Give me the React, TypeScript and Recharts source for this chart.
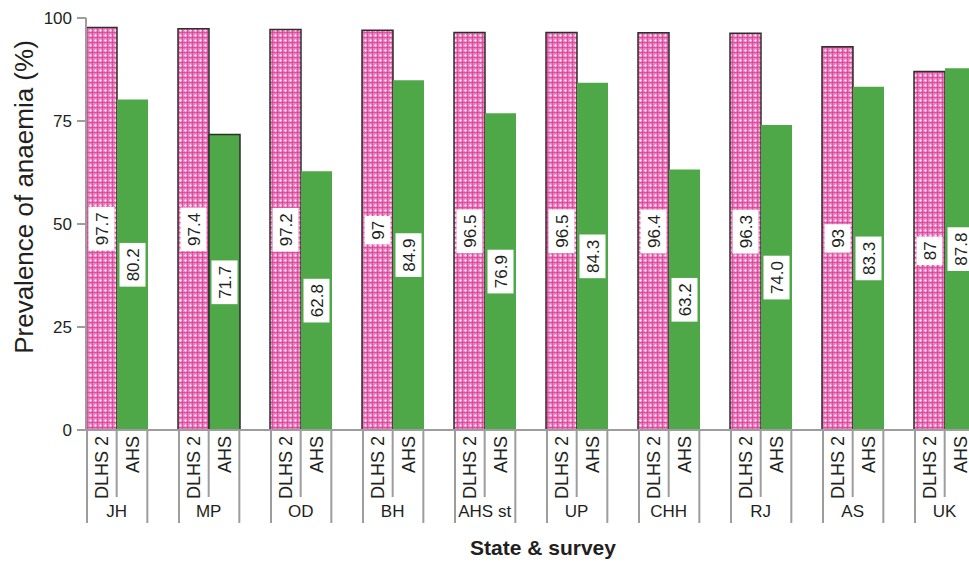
import React from 'react';
import { BarChart, Bar, XAxis, YAxis, LabelList, Cell } from 'recharts';

// anaemia prevalence by state, DLHS 2 vs AHS
const states = ['JH', 'MP', 'OD', 'BH', 'AHS st', 'UP', 'CHH', 'RJ', 'AS', 'UK'];
const dlhs2 = [97.7, 97.4, 97.2, 97, 96.5, 96.5, 96.4, 96.3, 93, 87];
const ahs = [80.2, 71.7, 62.8, 84.9, 76.9, 84.3, 63.2, 74.0, 83.3, 87.8];
const surveys = ['DLHS 2', 'AHS'];
const yTicks = [0, 25, 50, 75, 100];

const data = states.map((state, i) => ({ state, dlhs: dlhs2[i], ahs: ahs[i], gap: 0 }));

const PLOT_LEFT = 86;
const PLOT_WIDTH = 920;
const PLOT_BOTTOM = 430;
const BAND = PLOT_WIDTH / states.length;
const SLOT = BAND / 3;
const GREY = '#9d9d9d';
const INK = '#231f20';
const FONT = '"Liberation Sans", Arial, sans-serif';

// rough Arial advance widths at 1px
const charW = (c: string) => (c === '.' ? 0.3 : 0.6);
const textWidth = (s: string, size: number) => s.split('').reduce((a, c) => a + charW(c) * size, 0);

const ValueTag = (props: any) => {
  const { x, y, width, height, value, fmt } = props;
  if (value == null) return null;
  const label = fmt(value);
  const cx = x + width / 2;
  const cy = y + height / 2;
  const w = 26;
  const h = textWidth(label, 17) + 8;
  return (
    <g>
      <rect x={cx - w / 2} y={cy - h / 2} width={w} height={h} fill="#ffffff" />
      <text
        transform={`translate(${cx + 1},${cy}) rotate(-90)`}
        textAnchor="middle"
        dominantBaseline="central"
        fontSize={17}
        fill={INK}
      >
        {label}
      </text>
    </g>
  );
};

const CategoryTick = (props: any) => {
  const { x, payload } = props;
  const s = x - BAND / 2;
  const top = PLOT_BOTTOM;
  return (
    <g>
      <line x1={s + 1} x2={s + 1} y1={top} y2={523} stroke={GREY} strokeWidth={2} />
      <line x1={s + SLOT} x2={s + SLOT} y1={top} y2={497} stroke={GREY} strokeWidth={2} />
      <line x1={s + SLOT * 2} x2={s + SLOT * 2} y1={top} y2={523} stroke={GREY} strokeWidth={2} />
      {surveys.map((name, k) => (
        <text
          key={name}
          transform={`translate(${s + SLOT * k + SLOT / 2 + 1},${top + 6}) rotate(-90)`}
          textAnchor="end"
          dominantBaseline="central"
          fontSize={18}
          fill={INK}
        >
          {name}
        </text>
      ))}
      <text x={s + SLOT} y={517} textAnchor="middle" fontSize={17} fill={INK}>
        {payload.value}
      </text>
    </g>
  );
};

const YTitle = () => (
  <text
    transform="translate(24,197) rotate(-90)"
    textAnchor="middle"
    dominantBaseline="central"
    fontSize={26}
    fill={INK}
  >
    Prevalence of anaemia (%)
  </text>
);

const XTitle = () => (
  <text x={PLOT_LEFT + PLOT_WIDTH / 2 - 3} y={555} textAnchor="middle" fontSize={21} fontWeight="bold" fill={INK}>
    State &amp; survey
  </text>
);

export default function App() {
  return (
    <div
      style={{
        position: 'absolute',
        left: 0,
        top: 0,
        width: 969,
        height: 563,
        overflow: 'hidden',
        background: '#ffffff',
        fontFamily: FONT,
      }}
    >
      <BarChart
        width={PLOT_LEFT + PLOT_WIDTH + 4}
        height={563}
        data={data}
        margin={{ top: 18, right: 4, bottom: 0, left: 0 }}
        barGap={0}
        barCategoryGap={0}
      >
        <defs>
          {/* pink cross-hatch fill for the DLHS 2 bars */}
          <pattern id="pinkCheck" width="5" height="5" patternUnits="userSpaceOnUse">
            <rect width="5" height="5" fill="#ea80bd" />
            <rect x="0" y="2" width="5" height="1" fill="#dd52a1" />
            <rect x="2" y="0" width="1" height="5" fill="#dd52a1" />
            <rect x="2" y="2" width="1" height="1" fill="#d63d94" />
            <rect x="0" y="0" width="1" height="1" fill="#fde8f3" />
            <rect x="1" y="0" width="1" height="1" fill="#f6c2df" />
            <rect x="4" y="0" width="1" height="1" fill="#f6c2df" />
            <rect x="0" y="1" width="1" height="1" fill="#f6c2df" />
            <rect x="0" y="4" width="1" height="1" fill="#f6c2df" />
          </pattern>
        </defs>
        <XAxis
          dataKey="state"
          interval={0}
          height={563 - PLOT_BOTTOM}
          tickLine={false}
          tickSize={0}
          tickMargin={0}
          axisLine={{ stroke: GREY, strokeWidth: 2 }}
          tick={<CategoryTick />}
          label={<XTitle />}
        />
        <YAxis
          width={PLOT_LEFT}
          domain={[0, 100]}
          ticks={yTicks}
          interval={0}
          tickSize={9}
          tickMargin={5}
          axisLine={{ stroke: GREY, strokeWidth: 2 }}
          tickLine={{ stroke: GREY, strokeWidth: 2 }}
          tick={{ fontSize: 17, fill: INK }}
          label={<YTitle />}
        />
        <Bar dataKey="dlhs" fill="url(#pinkCheck)" stroke="#2e2e2e" strokeWidth={1.5} isAnimationActive={false}>
          <LabelList dataKey="dlhs" content={(p: any) => <ValueTag {...p} fmt={(v: number) => String(v)} />} />
        </Bar>
        <Bar dataKey="ahs" fill="#4ea847" isAnimationActive={false}>
          {data.map((d, i) => (
            <Cell key={d.state} stroke={i === 1 ? '#2e2e2e' : 'none'} strokeWidth={1.5} />
          ))}
          <LabelList dataKey="ahs" content={(p: any) => <ValueTag {...p} fmt={(v: number) => v.toFixed(1)} />} />
        </Bar>
        <Bar dataKey="gap" fill="none" isAnimationActive={false} />
      </BarChart>
    </div>
  );
}
